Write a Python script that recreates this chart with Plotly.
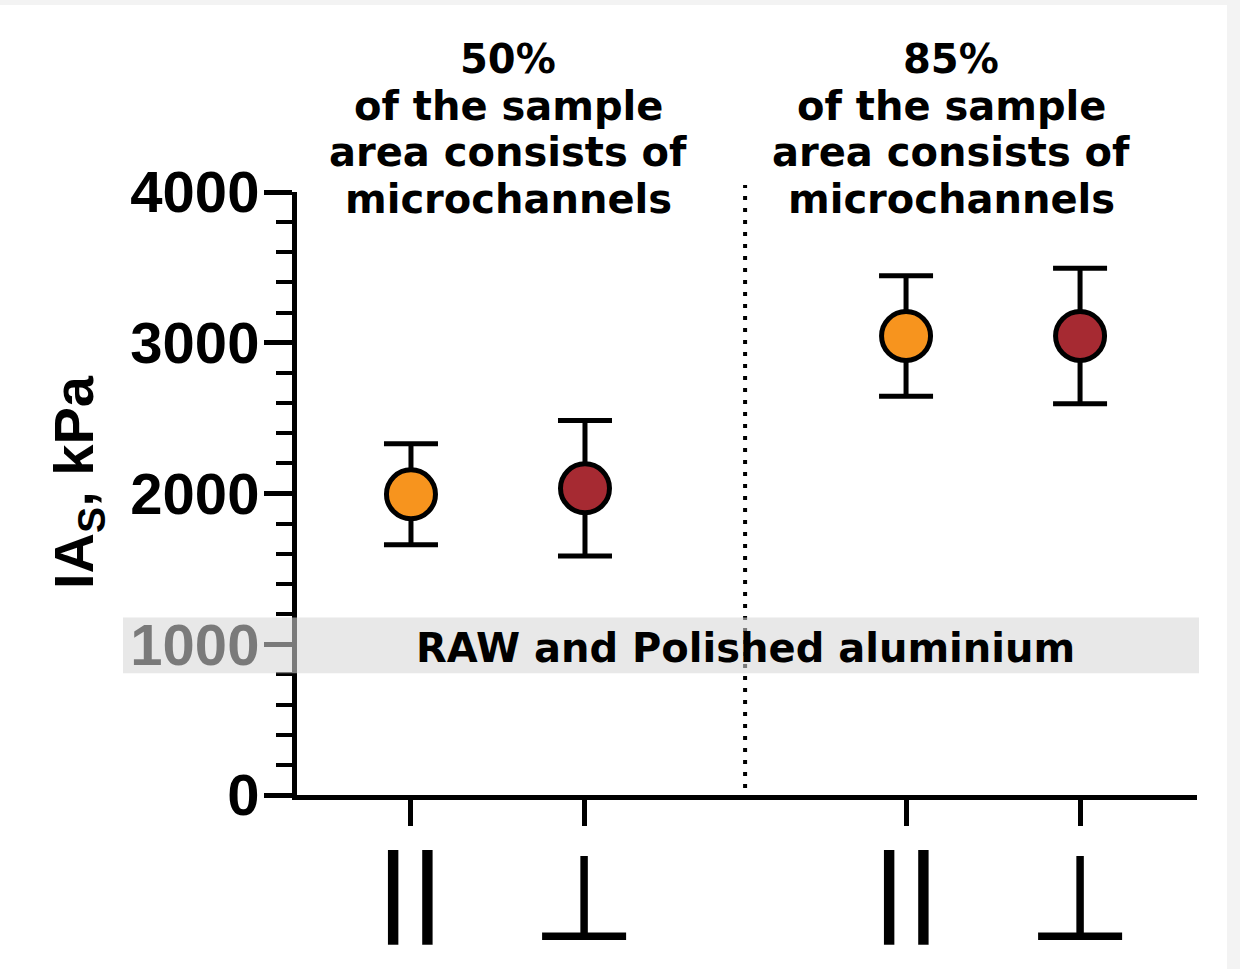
import plotly.graph_objects as go

# ---------------- data ----------------
groups = ["50%", "85%"]
orientation_labels = ["||", "⊥"]
mean_parallel = [1995, 3045]
sd_parallel = [335, 400]
mean_perp = [2035, 3045]
sd_perp = [450, 450]
y_ticks = [0, 1000, 2000, 3000, 4000]
band_range = [808, 1178]
band_label = "RAW and Polished aluminium"
group_titles = [["50%", "of the sample", "area consists of", "microchannels"],
                ["85%", "of the sample", "area consists of", "microchannels"]]
y_title = "IA<sub>S</sub>, kPa"

# ---------------- layout helpers ----------------
W, H = 1240, 969
L, R, T, B = 297, 43, 192, 174
PW, PH = W - L - R, H - T - B
GROUP_STEP = 2.845          # distance between groups in category units
x_par = [g * GROUP_STEP for g in range(len(groups))]
x_perp = [g * GROUP_STEP + 1 for g in range(len(groups))]
x_range = [-0.655, 4.517]
divider_x = 1.92

def px_x(px):
    return (px - L) / PW

def px_y(py):
    return (H - B - py) / PH

ORANGE = "#F7941E"
RED = "#A62A32"

fig = go.Figure()
for xs, ms, sds, col in [(x_par, mean_parallel, sd_parallel, ORANGE),
                         (x_perp, mean_perp, sd_perp, RED)]:
    fig.add_trace(go.Scatter(
        x=xs, y=ms, mode="markers",
        marker=dict(size=49, color=col, line=dict(color="black", width=5)),
        error_y=dict(type="data", array=sds, visible=True, color="black",
                     thickness=5, width=27),
        showlegend=False, cliponaxis=False,
    ))

tickvals = []
for g in range(len(groups)):
    tickvals += [x_par[g], x_perp[g]]

shapes = [
    # white card
    dict(type="rect", xref="paper", yref="paper", x0=px_x(0), x1=px_x(1227),
         y0=px_y(969), y1=px_y(5), fillcolor="white", line_width=0, layer="below"),
    # dotted divider
    dict(type="line", xref="x", yref="paper", x0=divider_x, x1=divider_x,
         y0=px_y(800), y1=px_y(185),
         line=dict(color="black", width=4, dash="4px,8px"), layer="below"),
    # band
    dict(type="rect", xref="paper", yref="y", x0=px_x(123), x1=px_x(1199),
         y0=band_range[0], y1=band_range[1], fillcolor="rgba(214,214,214,0.57)",
         line_width=0, layer="above"),
]

annotations = [
    dict(text=band_label, xref="x", yref="y", x=divider_x, y=sum(band_range) / 2 - 15,
         showarrow=False, font=dict(family="DejaVu Sans", size=40, color="black", weight="bold"),
         xanchor="center", yanchor="middle"),
    dict(text=y_title, xref="paper", yref="paper", x=px_x(77), y=px_y(482),
         textangle=-90, showarrow=False, xanchor="center", yanchor="middle",
         font=dict(family="Liberation Sans", size=56, color="black", weight="bold")),
]
centers = [508, 951]
baselines = [75, 122, 168, 215]
for gi, lines in enumerate(group_titles):
    for li, line in enumerate(lines):
        annotations.append(dict(
            text=line, xref="paper", yref="paper", x=px_x(centers[gi]),
            y=px_y(baselines[li] - 16), showarrow=False, xanchor="center", yanchor="middle",
            font=dict(family="DejaVu Sans", size=40, color="black", weight="bold")))

# category labels under the ticks
for g in range(len(groups)):
    annotations.append(dict(
        text="<b>" + orientation_labels[0] + "</b>", xref="x", yref="paper", x=x_par[g],
        y=px_y(890), showarrow=False, xanchor="center", yanchor="middle",
        font=dict(family="DejaVu Sans", size=94, color="black")))
    annotations.append(dict(
        text=orientation_labels[1], xref="x", yref="paper", x=x_perp[g],
        y=px_y(898), showarrow=False, xanchor="center", yanchor="middle",
        font=dict(family="DejaVu Sans", size=120, color="black")))

fig.update_layout(
    width=W, height=H,
    margin=dict(l=L, r=R, t=T, b=B),
    paper_bgcolor="#f3f3f3",
    plot_bgcolor="rgba(0,0,0,0)",
    shapes=shapes,
    annotations=annotations,
    xaxis=dict(range=x_range, tickvals=tickvals, showticklabels=False,
               showgrid=False, zeroline=False, showline=True, linecolor="black",
               linewidth=5, ticks="outside", ticklen=26, tickwidth=5, tickcolor="black"),
    yaxis=dict(range=[0, 4000], tickvals=y_ticks, showgrid=False, zeroline=False,
               showline=True, linecolor="black", linewidth=5, ticks="outside",
               ticklen=28, tickwidth=5, tickcolor="black", ticklabelstandoff=-7,
               tickfont=dict(family="Liberation Sans", size=58, color="black", weight="bold"),
               minor=dict(dtick=200, ticks="outside", ticklen=16, tickwidth=4,
                          tickcolor="black", showgrid=False)),
)

fig.write_html("out.html", config={"displayModeBar": False},
               post_script="document.body.style.margin='0';document.body.style.overflow='hidden';")
